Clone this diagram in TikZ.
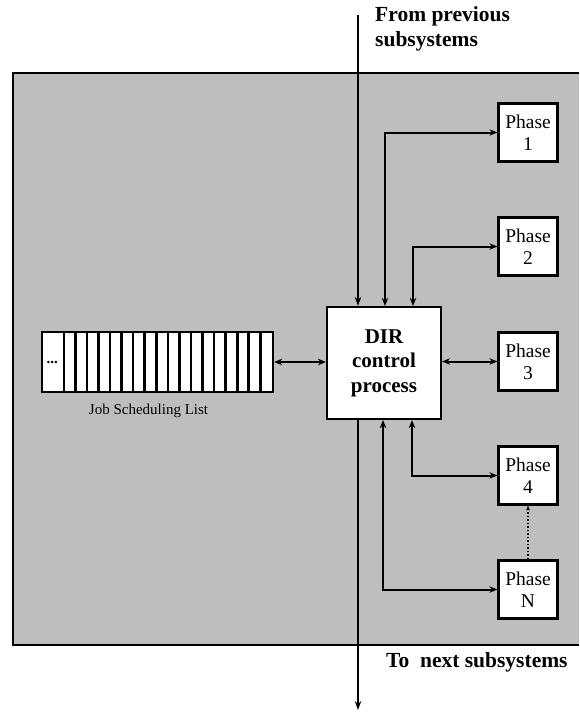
\documentclass[tikz,border=0pt]{standalone}
\usepackage{fontspec}
\setmainfont{Liberation Serif}
\usetikzlibrary{arrows.meta, positioning, calc}
\definecolor{screengray}{RGB}{190,190,190}

\tikzset{
  box/.style={draw, fill=white, line width=2.2pt, align=center, inner sep=0pt},
  phasebox/.style={box, minimum width=59pt, minimum height=58pt, font=\fontsize{19.5}{22}\selectfont},
  link/.style={line width=2pt, {Stealth[length=8pt,width=6.5pt]}-{Stealth[length=8pt,width=6.5pt]}},
  flow/.style={line width=2pt, -{Stealth[length=9pt,width=6.5pt]}},
  lbl/.style={font=\fontsize{21.5}{25}\selectfont\bfseries, align=left, inner sep=0pt},
}

\begin{document}
\begin{tikzpicture}[x=1pt, y=-1pt]
  \useasboundingbox (0,0) rectangle (579,712);

  % ===== background =====
  \fill[screengray] (13,73) rectangle (579,645);
  \draw[line width=2.5pt] (579,73) -- (13,73) -- (13,645) -- (579,645);

  % ===== DIR process and phases =====
  \node[box, minimum width=114pt, minimum height=112pt, font=\fontsize{21}{24.5}\selectfont\bfseries] (dir) at (384,363) {DIR\\control\\process};
  \foreach \n/\y in {1/132.5, 2/246.5, 3/361.5, 4/475.5, N/589.5}
    \node[phasebox] (p\n) at (528,\y) {Phase\\\n};

  % ===== job list =====
  \node[draw, fill=white, line width=2.4pt, minimum width=231pt, minimum height=60pt, inner sep=0pt] (list) at (157.5,362) {};
  \foreach \i in {0,...,17}
    \draw[line width=2.6pt] ([xshift=23+\i*11.56]list.north west) -- ([xshift=23+\i*11.56]list.south west);
  \node[font=\fontsize{15}{15}\selectfont\bfseries] (dots) at ([xshift=11.5]list.west) {...};
  \node[font=\fontsize{15}{15}\selectfont, below=7pt of list, xshift=-9pt] (listlbl) {Job Scheduling List};

  % ===== connectors =====
  \coordinate (in) at (358,15);
  \coordinate (out) at (358,710);
  \draw[flow] (in) -- (in |- dir.north);
  \draw[flow] (in |- dir.south) -- (out);
  \draw[link] ([xshift=1]dir.north) |- (p1.west);
  \draw[link] ([xshift=29]dir.north) |- (p2.west);
  \draw[link] (dir.east |- p3.west) -- (p3.west);
  \draw[link] ([xshift=28]dir.south) |- (p4.west);
  \draw[link] ([xshift=-1]dir.south) |- (pN.west);
  \draw[link] (list.east) -- (dir.west |- list.east);
  \draw[dotted, line width=1.5pt, -{Stealth[length=5pt]}] (pN.north) -- (p4.south);

  % ===== labels =====
  \node[lbl, anchor=north west] (fromlbl) at (375,6) {From previous\\subsystems};
  \node[lbl, anchor=west] (tolbl) at (386,662) {To~ next subsystems};
\end{tikzpicture}
\end{document}
